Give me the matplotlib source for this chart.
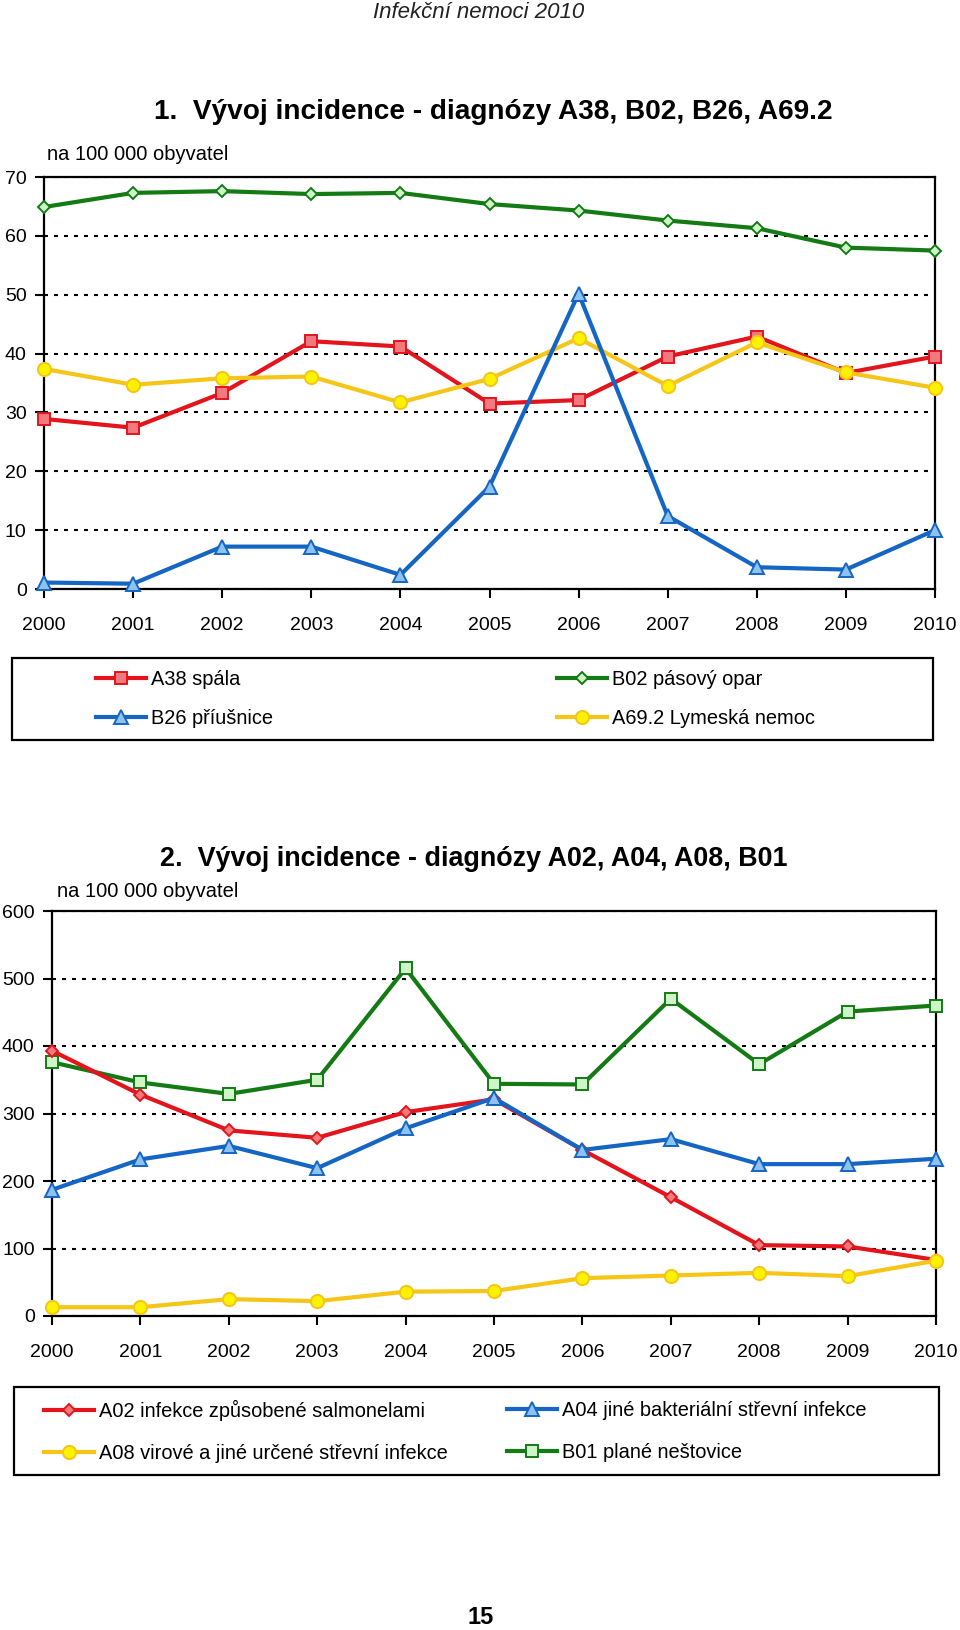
import matplotlib
matplotlib.use("Agg")
import matplotlib.pyplot as plt
from matplotlib.patches import Rectangle

# ---------------- data ----------------
years = [2000, 2001, 2002, 2003, 2004, 2005, 2006, 2007, 2008, 2009, 2010]
year_labels = [str(y) for y in years]

# chart 1
a38_spala = [28.9, 27.4, 33.3, 42.1, 41.2, 31.5, 32.1, 39.5, 42.9, 36.7, 39.5]
b02_pasovy_opar = [64.9, 67.3, 67.6, 67.1, 67.3, 65.4, 64.3, 62.6, 61.3, 58.0, 57.5]
b26_priusnice = [1.1, 0.9, 7.2, 7.2, 2.4, 17.4, 50.2, 12.4, 3.7, 3.3, 10.0]
a69_lyme = [37.4, 34.7, 35.8, 36.1, 31.7, 35.7, 42.6, 34.5, 41.9, 36.8, 34.2]
ticks1 = [0, 10, 20, 30, 40, 50, 60, 70]

# chart 2
a02_salmonely = [393, 328, 275, 264, 302, 321, 246, 176, 105, 103, 83]
a04_bakterialni = [187, 232, 252, 219, 278, 323, 246, 262, 225, 225, 233]
a08_virove = [13, 13, 25, 22, 36, 37, 56, 60, 64, 59, 82]
b01_plane_nestovice = [376, 346, 329, 350, 515, 344, 343, 470, 373, 451, 460]
ticks2 = [0, 100, 200, 300, 400, 500, 600]

labels1 = ["A38 spála", "B02 pásový opar", "B26 příušnice", "A69.2 Lymeská nemoc"]
labels2 = ["A02 infekce způsobené salmonelami", "A04 jiné bakteriální střevní infekce",
           "A08 virové a jiné určené střevní infekce", "B01 plané neštovice"]

# ---------------- fonts ----------------
REG = "Liberation Sans"
plt.rcParams["font.family"] = [REG, "DejaVu Sans"]

# ---------------- colors ----------------
RED, RED_F = "#E3141B", "#F27A7E"
GRN, GRN_F = "#137A14", "#CDF5C8"
BLU, BLU_F = "#1565C4", "#8EC2F0"
YEL, YEL_F = "#F5C518", "#FFF200"

W, H = 960, 1630
fig = plt.figure(figsize=(W / 100, H / 100), dpi=100)
fig.patch.set_facecolor("white")


def fx(px):
    return px / W


def fy(py):
    return 1 - py / H


def make_axes(left, right, top, bottom):
    return fig.add_axes([fx(left), fy(bottom), fx(right) - fx(left), (bottom - top) / H])


def style_axes(ax, ticks, ymax, xpad, ypad, fsize):
    ax.set_xlim(years[0], years[-1])
    ax.set_ylim(0, ymax)
    ax.set_yticks(ticks)
    ax.set_xticks(years)
    ax.set_xticklabels(year_labels)
    for s in ax.spines.values():
        s.set_linewidth(1.6)
        s.set_color("black")
    ax.tick_params(axis="both", direction="out", length=6.5, width=1.5, color="black",
                   labelsize=fsize)
    ax.tick_params(axis="x", pad=xpad)
    ax.tick_params(axis="y", pad=ypad)
    ax.yaxis.grid(True, color="black", linewidth=1.5, linestyle=(0, (1.9, 2.9)))
    ax.set_axisbelow(True)


def series(ax, y, color, face, marker, ms, z):
    return ax.plot(years, y, color=color, linewidth=3.0, marker=marker, markersize=ms,
                   markerfacecolor=face, markeredgecolor=color, markeredgewidth=1.4,
                   clip_on=False, zorder=z)[0]


def legend_col(handles, labels, x, yc, spacing):
    return fig.legend(handles, labels, loc="center left", bbox_to_anchor=(fx(x), fy(yc)),
                      frameon=False, borderpad=0, handlelength=2.5, handletextpad=0.25,
                      labelspacing=spacing, prop={"family": REG, "size": 14.4},
                      borderaxespad=0)


def frame(left, right, top, bottom):
    fig.patches.append(Rectangle((fx(left), fy(bottom)), fx(right) - fx(left), (bottom - top) / H,
                                 transform=fig.transFigure, fill=False, edgecolor="black",
                                 linewidth=1.6))


# ---------------- header ----------------
fig.text(fx(479), fy(13), "Infekční nemoci 2010", ha="center", va="center",
         fontsize=16, style="italic", color="#222222")

# ---------------- chart 1 ----------------
fig.text(fx(493), fy(112), "1.  Vývoj incidence - diagnózy A38, B02, B26, A69.2",
         ha="center", va="center", fontsize=20.2, fontweight="bold")
fig.text(fx(47), fy(155), "na 100 000 obyvatel", ha="left", va="center", fontsize=14.5)

ax1 = make_axes(44, 935, 177, 589)
style_axes(ax1, ticks1, 70, 14, 6, 14)
h_red = series(ax1, a38_spala, RED, RED_F, "s", 8.3, 3)
h_grn = series(ax1, b02_pasovy_opar, GRN, GRN_F, "D", 6.2, 3)
h_yel = series(ax1, a69_lyme, YEL, YEL_F, "o", 9.5, 4)
h_blu = series(ax1, b26_priusnice, BLU, BLU_F, "^", 10, 5)

frame(12, 933, 658, 740)
legend_col([h_red, h_blu], [labels1[0], labels1[2]], 96, 699, 0.99)
legend_col([h_grn, h_yel], [labels1[1], labels1[3]], 557, 699, 0.99)

# ---------------- chart 2 ----------------
fig.text(fx(474), fy(859), "2.  Vývoj incidence - diagnózy A02, A04, A08, B01",
         ha="center", va="center", fontsize=19.4, fontweight="bold")
fig.text(fx(57), fy(892), "na 100 000 obyvatel", ha="left", va="center", fontsize=14.5)

ax2 = make_axes(52, 936, 911, 1316)
style_axes(ax2, ticks2, 600, 14, 6, 14)
g_grn = series(ax2, b01_plane_nestovice, GRN, GRN_F, "s", 8.5, 3)
g_red = series(ax2, a02_salmonely, RED, RED_F, "D", 6.0, 4)
g_blu = series(ax2, a04_bakterialni, BLU, BLU_F, "^", 10, 5)
g_yel = series(ax2, a08_virove, YEL, YEL_F, "o", 9.5, 6)

frame(14, 939, 1387, 1475)
legend_col([g_red, g_yel], [labels2[0], labels2[2]], 44, 1431, 1.15)
legend_col([g_blu, g_grn], [labels2[1], labels2[3]], 507, 1431, 1.15)

# ---------------- page number ----------------
fig.text(fx(481), fy(1624), "15", ha="center", va="baseline", fontsize=17, fontweight="bold")

fig.savefig("out.png", dpi=100, facecolor="white")
